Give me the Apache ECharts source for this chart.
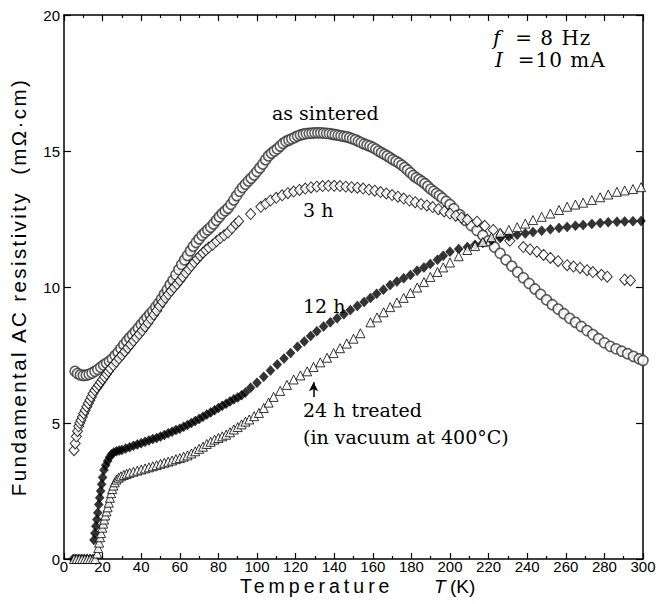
<!DOCTYPE html>
<html>
<head>
<meta charset="utf-8">
<script src="https://cdn.jsdelivr.net/npm/echarts@6.0.0/dist/echarts.min.js"></script>
<style>
html, body { margin: 0; padding: 0; background: #fff; }
#chart { width: 665px; height: 604px; }
/* 标题字距 */
#chart text[style*="19.5px"] { letter-spacing: 4px; }
#chart text[style*="20.5px"] { letter-spacing: 2.4px; }
#chart text[style*="20px"] { letter-spacing: 1px; }
</style>
</head>
<body>
<div id="chart"></div>
<script>
// 坐标范围
const tRange = [0, 300], tStep = 20
const rRange = [0, 20], rStep = 5

// as sintered (open circles)
const asSintered = [[5.7,6.9],[7,6.82],[8.5,6.77],[10,6.75],[11.5,6.76],[13,6.79],[14.5,6.84],[16,6.9],[17.5,6.97],[19,7.05],[20.5,7.13],[22,7.2],[23.5,7.27],[25,7.36],[26.5,7.48],[28,7.6],[29.5,7.74],[31,7.88],[32.5,8.01],[34,8.13],[35.5,8.24],[37,8.36],[38.5,8.49],[40,8.62],[41.5,8.75],[43,8.88],[44.5,9.0],[46,9.12],[47.5,9.26],[49,9.4],[50.5,9.56],[52,9.73],[53.5,9.9],[55,10.08],[56.5,10.25],[58,10.45],[59.5,10.64],[61,10.83],[62.5,11.0],[64,11.16],[65.5,11.33],[67,11.5],[68.5,11.64],[70,11.77],[71.5,11.9],[73,12.0],[74.5,12.1],[76,12.2],[77.5,12.32],[79,12.45],[80.5,12.58],[82,12.7],[83.5,12.8],[85,12.9],[86.5,13.04],[88,13.2],[89.5,13.36],[91,13.52],[92.5,13.66],[94,13.78],[95.5,13.9],[97,14.0],[98.5,14.12],[100,14.25],[101.5,14.38],[103,14.52],[104.5,14.68],[106,14.82],[107.5,14.92],[109,15.0],[110.5,15.08],[112,15.18],[113.5,15.28],[115,15.35],[116.5,15.4],[118,15.45],[119.5,15.5],[121,15.55],[122.5,15.59],[124,15.62],[125.5,15.64],[127,15.65],[128.5,15.66],[130,15.67],[131.5,15.67],[133,15.67],[134.5,15.66],[136,15.65],[137.5,15.64],[139,15.62],[140.5,15.6],[142,15.58],[143.5,15.56],[145,15.54],[146.5,15.52],[148,15.49],[149.5,15.45],[151,15.41],[152.5,15.36],[154,15.31],[155.5,15.26],[157,15.22],[158.5,15.18],[160,15.13],[161.5,15.07],[163,15.0],[164.5,14.94],[166,14.88],[167.5,14.82],[169,14.75],[170.5,14.68],[172,14.62],[173.5,14.56],[175,14.48],[176.5,14.39],[178,14.3],[179.5,14.2],[181,14.1],[182.5,14.02],[184,13.95],[185.5,13.88],[187,13.8],[188.5,13.7],[190,13.6],[191.5,13.52],[193,13.44],[194.5,13.36],[196,13.27],[198,13.15],[200,13.03],[202,12.88],[205,12.66],[208,12.45],[211,12.26],[214,12.08],[217,11.9],[220,11.7],[223,11.47],[226,11.24],[229,11.0],[232,10.77],[235,10.55],[238,10.34],[241,10.13],[244,9.93],[247,9.73],[250,9.53],[253,9.35],[256,9.19],[259,9.02],[262,8.85],[265,8.7],[268,8.55],[271,8.4],[274,8.25],[277,8.1],[280,7.95],[283,7.82],[286,7.73],[289,7.64],[292,7.55],[295,7.45],[298,7.36],[300,7.3]]

// 3 h (open diamonds)
const h3 = [[5.2,4.0],[5.8,4.25],[6.4,4.5],[7,4.7],[7.6,4.88],[8.2,5.0],[8.8,5.1],[9.5,5.22],[10.2,5.35],[11,5.47],[11.8,5.6],[12.6,5.72],[13.4,5.84],[14.2,5.96],[15,6.08],[16,6.2],[17,6.3],[18,6.4],[19,6.5],[20,6.6],[21,6.7],[22,6.8],[23,6.9],[24,7.0],[25.5,7.12],[27,7.25],[28.5,7.38],[30,7.5],[31.5,7.63],[33,7.76],[34.5,7.89],[36,8.02],[37.5,8.14],[39,8.27],[40.5,8.4],[42,8.54],[43.5,8.68],[45,8.83],[46.5,8.98],[48,9.13],[49.5,9.3],[51,9.45],[52.5,9.6],[54,9.73],[55.5,9.86],[57,9.99],[58.5,10.11],[60,10.24],[61.5,10.38],[63,10.52],[64.5,10.65],[66,10.78],[67.5,10.91],[69,11.03],[70.5,11.15],[72,11.26],[73.5,11.36],[75,11.45],[77,11.55],[79,11.68],[81,11.8],[83,11.9],[85,12.0],[87,12.16],[89,12.32],[90.5,12.42],[96.7,12.68],[102,12.95],[104.5,13.06],[107,13.18],[110,13.28],[113,13.37],[116,13.45],[119,13.51],[122,13.57],[125,13.62],[128,13.66],[131,13.69],[134,13.71],[137,13.72],[140,13.72],[143,13.71],[146,13.69],[149,13.67],[152,13.65],[155,13.62],[158,13.58],[161,13.54],[164,13.49],[167,13.44],[170,13.38],[173,13.32],[176,13.25],[179,13.18],[182,13.12],[185,13.05],[188,13.0],[191,12.94],[194,12.86],[197,12.78],[200,12.7],[203,12.62],[206,12.55],[209,12.48],[214,12.4],[218,12.25],[222.4,12.1],[226.5,11.9],[231,11.7],[238,11.47],[241.5,11.38],[245,11.3],[248.5,11.18],[252,11.07],[256,10.95],[260.7,10.8],[264,10.75],[267.4,10.7],[271,10.62],[274,10.55],[278.5,10.45],[281.5,10.38],[290.5,10.27],[293.5,10.24]]

// 12 h (filled diamonds)
const h12 = [[4.7,0],[6,0],[7.5,0],[9,0],[10.5,0],[12,0],[13.5,0],[15,0],[15.5,0.7],[16,0.95],[16.5,1.2],[17,1.45],[17.5,1.7],[18,2.0],[18.5,2.25],[19,2.5],[19.5,2.75],[20,3.0],[20.7,3.27],[21.6,3.45],[22.6,3.6],[23.6,3.74],[24.6,3.85],[25.8,3.92],[27.2,3.96],[28.6,3.99],[30,4.01],[32,4.06],[34,4.11],[36,4.16],[38,4.21],[40,4.26],[42,4.31],[44,4.36],[46,4.41],[48,4.45],[50,4.5],[52,4.56],[54,4.62],[56,4.68],[58,4.74],[60,4.79],[62,4.86],[64,4.93],[66,5.0],[68,5.07],[70,5.15],[72,5.23],[74,5.31],[76,5.39],[78,5.47],[80,5.55],[82,5.63],[84,5.71],[86,5.79],[88,5.87],[90,5.94],[92,6.02],[94,6.12],[96.7,6.3],[100,6.48],[103.5,6.7],[107,6.93],[110.5,7.15],[114,7.37],[117.4,7.57],[121,7.8],[124.5,8.0],[127.8,8.2],[131,8.37],[134.5,8.55],[138,8.7],[141.5,8.85],[145,9.0],[148.4,9.15],[152,9.3],[155.5,9.45],[158.8,9.6],[162,9.75],[165.5,9.9],[169,10.07],[172.5,10.2],[176,10.32],[179.5,10.44],[183,10.6],[186.5,10.72],[189.8,10.85],[193.5,11.0],[196.5,11.15],[200,11.3],[204.5,11.4],[209,11.47],[213,11.55],[217,11.62],[221.5,11.72],[226,11.8],[230.5,11.86],[234.8,11.92],[239,11.97],[243,12.02],[247.5,12.07],[252,12.12],[256.5,12.17],[260.7,12.21],[265,12.25],[269,12.28],[273.5,12.32],[277.8,12.35],[282,12.38],[286.5,12.4],[290.5,12.41],[294.8,12.42],[299,12.43]]

// 24 h treated (open triangles)
const h24 = [[5.2,0],[6.6,0],[8,0],[9.4,0],[10.8,0],[12.2,0],[13.6,0],[15,0],[16.2,0],[17.2,0.2],[17.7,0.4],[18.2,0.6],[18.7,0.8],[19.2,0.95],[19.8,1.15],[20.3,1.3],[20.8,1.45],[21.4,1.6],[22,1.75],[22.6,1.9],[23.2,2.07],[23.8,2.25],[24.4,2.42],[25,2.57],[25.6,2.7],[26.3,2.82],[27.2,2.92],[28.3,2.99],[29.5,3.04],[31,3.09],[32.5,3.13],[34,3.17],[36,3.21],[38,3.25],[40,3.29],[42,3.33],[44,3.37],[46,3.41],[48,3.45],[50,3.5],[52,3.54],[54,3.58],[56,3.62],[58,3.67],[60,3.71],[62,3.76],[64,3.81],[66,3.88],[68,3.96],[70,4.05],[72,4.13],[74,4.23],[76,4.31],[78,4.39],[80,4.45],[82,4.51],[84,4.57],[86,4.66],[88,4.76],[90,4.85],[92,4.95],[94,5.05],[96,5.13],[98.5,5.25],[101,5.37],[103.5,5.55],[106,5.75],[108.6,5.96],[112,6.18],[115.5,6.4],[119,6.6],[122.5,6.75],[126,6.9],[129.3,7.06],[132.8,7.23],[136.3,7.4],[139.7,7.57],[143,7.75],[146.5,7.92],[150,8.1],[153.6,8.3],[158.8,8.7],[162.2,8.88],[165.6,9.07],[169,9.26],[172.5,9.43],[176,9.6],[179.5,9.78],[183,9.98],[186.5,10.18],[189.8,10.37],[193.5,10.55],[196.5,10.72],[200,10.9],[204.5,11.13],[209,11.36],[213,11.51],[217,11.66],[221.5,11.83],[226,12.0],[230.5,12.1],[234.8,12.2],[239,12.33],[243,12.46],[247.5,12.58],[252,12.7],[256.5,12.83],[260.7,12.95],[265,13.03],[269,13.1],[273.5,13.2],[277.8,13.3],[282,13.4],[286.5,13.5],[290.5,13.55],[294.8,13.6],[299,13.67]]

// 箭头 (24 h 标注)
const arrowT = 129.3, arrowFrom = 5.96, arrowTo = 6.5

const serif = 'DejaVu Serif'
const sans = 'Liberation Sans'

function note(text, x, y, size) {
    size = size || 19
    return {
        type: 'text', x: x, y: y, silent: true,
        style: {
            text: text, fill: '#000', fontFamily: serif, fontSize: size,
            align: 'left', verticalAlign: 'middle',
            // 斜体字母不加字距
            rich: { i: { fontFamily: serif, fontSize: size + 0.2, fontStyle: 'italic', fill: '#000' } }
        }
    }
}

function xAxisOf(pos, showLabel) {
    return {
        type: 'value', position: pos, min: tRange[0], max: tRange[1], interval: tStep,
        axisLine: { show: true, onZero: false, lineStyle: { color: '#000', width: 1.5 } },
        axisTick: { show: true, inside: true, length: 6, lineStyle: { color: '#000', width: 1.2 } },
        minorTick: { show: true, splitNumber: 2, length: 3, lineStyle: { color: '#000', width: 1.2 } },
        axisLabel: { show: showLabel, margin: 0, color: '#000', fontFamily: sans, fontSize: 15 },
        splitLine: { show: false }, minorSplitLine: { show: false }
    }
}

function yAxisOf(pos, showLabel) {
    return {
        type: 'value', position: pos, min: rRange[0], max: rRange[1], interval: rStep,
        axisLine: { show: true, onZero: false, lineStyle: { color: '#000', width: 1.5 } },
        axisTick: { show: true, inside: true, length: 7, lineStyle: { color: '#000', width: 1.2 } },
        axisLabel: { show: showLabel, margin: 4, color: '#000', fontFamily: sans, fontSize: 15 },
        splitLine: { show: false }
    }
}

const yLeft = yAxisOf('left', true)
yLeft.name = 'Fundamental AC resistivity  (mΩ·cm)'
yLeft.nameLocation = 'middle'
yLeft.nameGap = 35
yLeft.nameTextStyle = { fontFamily: sans, fontSize: 20.5, color: '#000' }

const option = {
    animation: false,
    backgroundColor: '#fff',
    grid: { left: 63, right: 22, top: 15, bottom: 45, containLabel: false },
    xAxis: [xAxisOf('bottom', true), xAxisOf('top', false)],
    yAxis: [yLeft, yAxisOf('right', false)],
    series: [
        {
            name: 'as sintered', type: 'scatter', data: asSintered,
            symbol: 'circle', symbolSize: 10,
            itemStyle: { color: '#fff', borderColor: '#333', borderWidth: 1.6 }
        },
        {
            name: '3 h', type: 'scatter', data: h3,
            symbol: 'diamond', symbolSize: [10, 11],
            itemStyle: { color: '#fff', borderColor: '#000', borderWidth: 1 }
        },
        {
            name: '12 h', type: 'scatter', data: h12,
            symbol: 'diamond', symbolSize: [9, 10],
            itemStyle: { color: '#000', borderColor: '#000', borderWidth: 0.5 }
        },
        {
            name: '24 h', type: 'scatter', data: h24,
            symbol: 'triangle', symbolSize: 9,
            itemStyle: { color: '#fff', borderColor: '#000', borderWidth: 1 },
            markLine: {
                silent: true, animation: false,
                symbol: ['none', 'arrow'], symbolSize: [7, 9],
                label: { show: false },
                lineStyle: { color: '#000', width: 1.5, type: 'solid' },
                data: [[{ coord: [arrowT, arrowFrom] }, { coord: [arrowT, arrowTo] }]]
            }
        }
    ],
    graphic: [
        note('as sintered', 272, 113),
        note('3 h', 303, 210),
        note('12 h', 303, 306),
        note('24 h treated', 303, 410),
        note('(in vacuum at 400°C)', 303, 437),
        note('{i|f}  = 8 Hz', 493, 38, 20),
        note('{i|I}  =10 mA', 495, 60, 20),
        {
            type: 'text', x: 240, y: 586, silent: true,
            style: { text: 'Temperature', fill: '#000', fontFamily: sans, fontSize: 19.5, align: 'left', verticalAlign: 'middle' }
        },
        {
            type: 'text', x: 434, y: 586, silent: true,
            style: { text: 'T', fill: '#000', fontFamily: sans, fontSize: 19, fontStyle: 'italic', align: 'left', verticalAlign: 'middle' }
        },
        {
            type: 'text', x: 450, y: 586, silent: true,
            style: { text: '(K)', fill: '#000', fontFamily: sans, fontSize: 19, align: 'left', verticalAlign: 'middle' }
        }
    ]
}

const myChart = echarts.init(document.getElementById('chart'), null, { renderer: 'svg' })
myChart.setOption(option)
</script>
</body>
</html>
